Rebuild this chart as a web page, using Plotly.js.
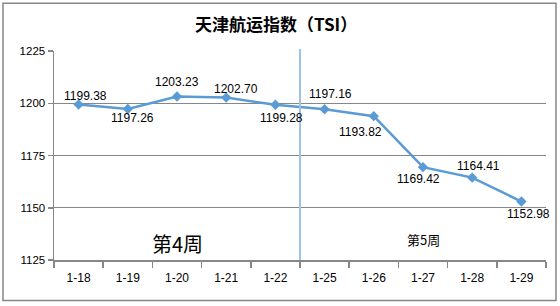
<!DOCTYPE html>
<html>
<head>
<meta charset="utf-8">
<script src="https://cdn.plot.ly/plotly-3.0.1.min.js"></script>
<style>html,body{margin:0;padding:0;background:#fff;}#chart{width:560px;height:306px;}</style>
</head>
<body>
<div id="chart"></div>
<script>
const dates = ["1-18","1-19","1-20","1-21","1-22","1-25","1-26","1-27","1-28","1-29"];
const tsi = [1199.38,1197.26,1203.23,1202.70,1199.28,1197.16,1193.82,1169.42,1164.41,1152.98];
const labels = ["1199.38","1197.26","1203.23","1202.70","1199.28","1197.16","1193.82","1169.42","1164.41","1152.98"];
const weekNames = ["第4周","第5周"];
const weekAt = ["1-20","1-27"];
const weekY = [1132.9,1134.8];
const yTicks = [1125,1150,1175,1200,1225];

// label nudges (style)
const shiftX = [7,5,0,10,6,6,-13,-5,6,7];
const shiftY = [9,-9,15,9,-13,15,-16,-12,12,-12];

const blue = "#5B9BD5";
const grey = "#878787";

const annotations = dates.map((d,i)=>({
  x: d, y: tsi[i], xref:"x", yref:"y", text: labels[i], showarrow:false,
  xshift: shiftX[i], yshift: shiftY[i],
  font:{family:"Liberation Sans, Arial, sans-serif", size:12, color:"#000"}
}));
annotations.push({x: weekAt[0], y: weekY[0], xref:"x", yref:"y", text: weekNames[0], showarrow:false,
  font:{family:"Noto Sans CJK SC, sans-serif", size:20, color:"#000"}});
annotations.push({x: weekAt[1], y: weekY[1], xref:"x", yref:"y", text: weekNames[1], showarrow:false,
  font:{family:"Noto Sans CJK SC, sans-serif", size:13, color:"#000"}});

const trace = {
  x: dates, y: tsi, type:"scatter", mode:"lines+markers",
  line:{color:blue, width:2.5},
  marker:{symbol:"diamond", size:8, color:blue},
  hoverinfo:"skip"
};

const layout = {
  width:560, height:306,
  margin:{l:54, r:14, t:51, b:46},
  paper_bgcolor:"#fff", plot_bgcolor:"#fff",
  showlegend:false,
  title:{text:"<b>天津航运指数（TSI）</b>", x:0.493, xanchor:"center", y:0.918, yanchor:"middle",
    font:{family:"Noto Sans CJK SC, sans-serif", size:17, color:"#000"}},
  xaxis:{type:"category", range:[-0.5,9.5], showgrid:false, showline:true, linecolor:grey, linewidth:1.5,
    ticks:"outside", tickson:"boundaries", ticklen:6, tickcolor:grey, tickwidth:1.5, ticklabelstandoff:6,
    tickfont:{family:"Liberation Sans, Arial, sans-serif", size:12, color:"#000"}, fixedrange:true, zeroline:false},
  yaxis:{range:[1125,1225], tickvals:yTicks, showgrid:true, gridcolor:grey, gridwidth:1.2,
    showline:true, linecolor:grey, linewidth:1.5, ticks:"outside", ticklen:5, tickcolor:grey, tickwidth:1.5,
    tickfont:{family:"Liberation Sans, Arial, sans-serif", size:11.5, color:"#000"}, zeroline:false, fixedrange:true},
  shapes:[
    {type:"rect", xref:"paper", yref:"paper", x0:-0.1037, x1:1.0203, y0:-0.1933, y1:1.229,
     line:{color:grey, width:1.5}, fillcolor:"rgba(0,0,0,0)", layer:"below"},
    {type:"line", xref:"x", yref:"paper", x0:4.5, x1:4.5, y0:0, y1:1.01,
     line:{color:"#9DC3E6", width:2}, layer:"above"}
  ],
  annotations: annotations
};

Plotly.newPlot("chart",[trace],layout,{staticPlot:true, displayModeBar:false});
</script>
</body>
</html>
